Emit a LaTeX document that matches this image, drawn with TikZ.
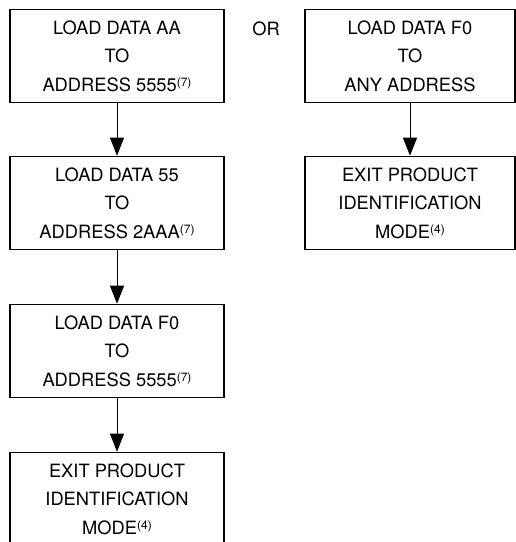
\documentclass[tikz,border=0pt]{standalone}
\usepackage{fontspec}
\setmainfont{TeX Gyre Heros}
\usetikzlibrary{arrows.meta}
\tikzset{
  stepbox/.style={draw, line width=1.6pt, minimum width=214pt, minimum height=93pt,
    inner sep=0pt, align=center, font=\fontsize{18.3}{28.5}\selectfont},
  rbox/.style={stepbox, minimum width=210pt},
  flow/.style={line width=0.9pt, -{Triangle[length=18pt,width=14pt]}},
  ortext/.style={font=\fontsize{18.3}{22}\selectfont, inner sep=0pt, anchor=base}
}
\newcommand{\fnref}[1]{\raisebox{5pt}{\fontsize{12}{12}\selectfont(#1)}}
\begin{document}
\begin{tikzpicture}[x=1pt,y=-1pt]
\useasboundingbox (0,0) rectangle (516,542);
\node[stepbox] (a1) at (117,56) {LOAD DATA AA\\TO\\ADDRESS 5555\fnref{7}};
\node[stepbox] (a2) at (117,203) {LOAD DATA 55\\TO\\ADDRESS 2AAA\fnref{7}};
\node[stepbox] (a3) at (117,351) {LOAD DATA F0\\TO\\ADDRESS 5555\fnref{7}};
\node[stepbox] (a4) at (117,499) {EXIT PRODUCT\\IDENTIFICATION\\MODE\fnref{4}};
\node[rbox] (b1) at (410,56) {LOAD DATA F0\\TO\\ANY ADDRESS};
\node[rbox] (b2) at (410,203) {EXIT PRODUCT\\IDENTIFICATION\\MODE\fnref{4}};
\node[ortext] (or) at (266,35) {OR};
\draw[flow] (a1) -- (a2);
\draw[flow] (a2) -- (a3);
\draw[flow] (a3) -- (a4);
\draw[flow] (b1) -- (b2);
\end{tikzpicture}
\end{document}
